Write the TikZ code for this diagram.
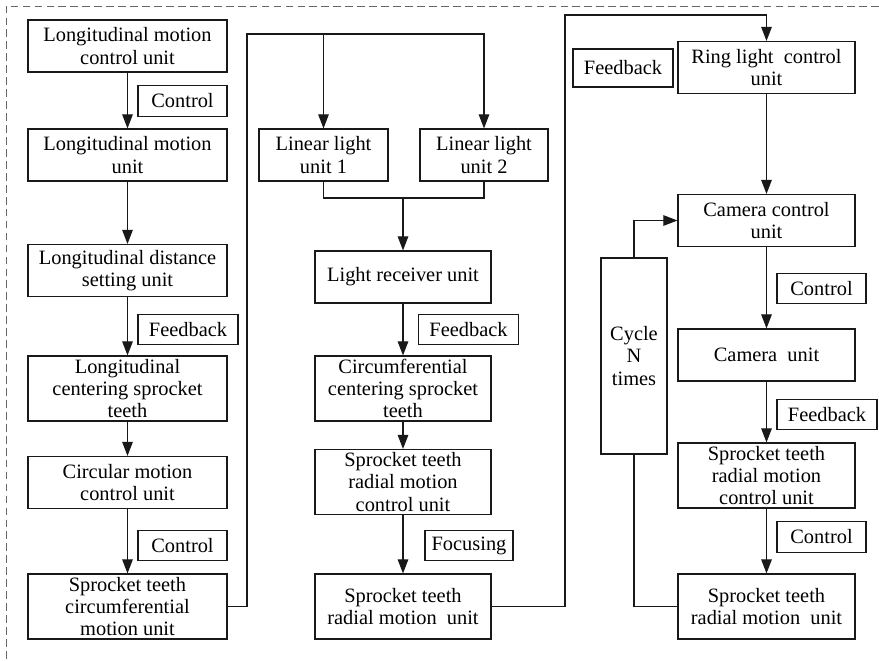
\documentclass[tikz,border=0pt]{standalone}
\usepackage{fontspec}
\setmainfont{Liberation Serif}
\usepackage{tikz}
\usetikzlibrary{arrows.meta, positioning}

\begin{document}
\begin{tikzpicture}[x=0.025cm, y=-0.025cm,
    font=\fontsize{14.5}{15.8}\selectfont,
    line width=0.8pt, draw=black!90,
    ->/.style={draw=black!90, -{Triangle[length=10pt, width=7.5pt]}},
    unit/.style={draw=black!90, rectangle, align=center, inner sep=1pt, minimum height=1.3cm},
    wide/.style={unit, minimum width=4.975cm},
    mid/.style={unit, minimum width=4.4cm},
    rt/.style={unit, minimum width=4.425cm},
    tall/.style={minimum height=1.625cm},
    tag/.style={draw=black!90, rectangle, align=center, inner sep=1pt, minimum height=0.77cm}]
    \useasboundingbox (0,0) rectangle (879,660);

    % Frame (only top and left are visible)
    \draw[black!60, line width=0.6pt, dash pattern=on 5.5pt off 3pt] (879,6) -- (6,6) -- (6,660);

    % Column 1
    \node[wide] (lmc) at (127.5,46) {Longitudinal motion\\control unit};
    \node[wide] (lm) at (127.5,155) {Longitudinal motion\\unit};
    \node[wide] (lds) at (127.5,270.5) {Longitudinal distance\\setting unit};
    \node[wide, tall] (lcs) at (127.5,388.5) {Longitudinal\\centering sprocket\\teeth};
    \node[wide] (cmc) at (127.5,482.5) {Circular motion\\control unit};
    \node[wide, tall] (stc) at (127.5,606.5) {Sprocket teeth\\circumferential\\motion unit};

    \node[tag, minimum width=2.225cm] (ctrla) at (182.5,101) {Control};
    \node[tag, minimum width=2.5cm] (fba) at (188,329.5) {Feedback};
    \node[tag, minimum width=2.225cm] (ctrlb) at (182.5,545.5) {Control};

    \draw[->] (lmc) -- (lm);
    \draw[->] (lm) -- (lds);
    \draw[->] (lds) -- (lcs);
    \draw[->] (lcs) -- (cmc);
    \draw[->] (cmc) -- (stc);

    % Column 2
    \node[unit, minimum width=3.225cm] (lla) at (323.5,155) {Linear light\\unit 1};
    \node[unit, minimum width=3.2cm] (llb) at (484,155) {Linear light\\unit 2};
    \node[mid] (lr) at (403,277) {Light receiver unit};
    \node[mid, tall] (ccs) at (403,388.5) {Circumferential\\centering sprocket\\teeth};
    \node[mid, tall] (srmc) at (403,482) {Sprocket teeth\\radial motion\\control unit};
    \node[mid, tall] (srm) at (403,606.5) {Sprocket teeth\\radial motion~~unit};

    \node[tag, minimum width=2.5cm] (fbb) at (468.5,329.5) {Feedback};
    \node[tag, minimum width=2.2cm] (foc) at (469,545.5) {Focusing};

    \coordinate (topl) at (247,34);
    \coordinate (join) at (403,198);
    \draw[->] (stc.east) -| (topl) -| (llb.north);
    \draw[->] (lla.north |- topl) -- (lla.north);
    \draw (lla.south) |- (join) -| (llb.south);
    \draw[->] (join) -- (lr);
    \draw[->] (lr) -- (ccs);
    \draw[->] (ccs) -- (srmc);
    \draw[->] (srmc) -- (srm);

    % Column 3
    \node[rt] (rlc) at (766.5,67.5) {Ring light~~control\\unit};
    \node[rt] (ccu) at (766.5,220.5) {Camera control\\unit};
    \node[rt] (cam) at (766.5,355) {Camera~~unit};
    \node[rt, tall] (srmc2) at (766.5,475.5) {Sprocket teeth\\radial motion\\control unit};
    \node[rt, tall] (srm2) at (766.5,606.5) {Sprocket teeth\\radial motion~~unit};
    \node[unit, minimum width=1.65cm, minimum height=4.9cm] (cyc) at (634,356) {Cycle\\N\\times};

    \node[tag, minimum width=2.5cm, minimum height=0.95cm] (fbc) at (623,68) {Feedback};
    \node[tag, minimum width=2.225cm] (ctrlc) at (821.5,288.5) {Control};
    \node[tag, minimum width=2.5cm] (fbd) at (827,414.5) {Feedback};
    \node[tag, minimum width=2.225cm] (ctrld) at (821.5,537) {Control};

    \coordinate (topr) at (565,15);
    \draw[->] (srm.east) -| (topr) -| (rlc.north);
    \draw[->] (rlc) -- (ccu);
    \draw[->] (ccu) -- (cam);
    \draw[->] (cam) -- (srmc2);
    \draw[->] (srmc2) -- (srm2);
    \draw[->] (cyc.north) |- (ccu.west);
    \draw (cyc.south) |- (srm2.west);
\end{tikzpicture}
\end{document}
